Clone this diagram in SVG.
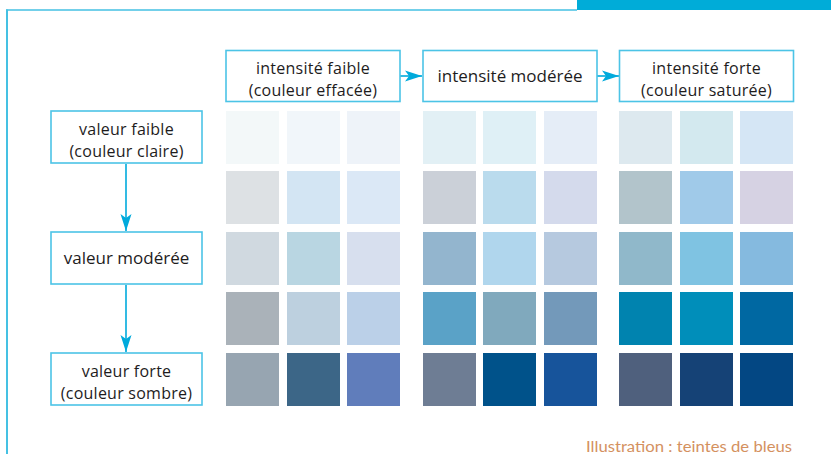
<svg xmlns="http://www.w3.org/2000/svg" width="831" height="454" viewBox="0 0 831 454">
<style>
.box{fill:#fff;stroke:#4cc4e6;stroke-width:1.6}
.lbl{font-family:"Open Sans","Liberation Sans",sans-serif;font-size:16px;fill:#1e1c1d;text-anchor:middle;letter-spacing:0.25px}
.one{font-size:17px;letter-spacing:0}
.con{stroke:#00aadc;stroke-width:1.6;fill:none}
.cap{font-family:"Lato","Liberation Sans",sans-serif;font-size:15.5px;fill:#d4915f}
</style>
<defs>
<marker id="ah" markerUnits="userSpaceOnUse" markerWidth="18" markerHeight="12" refX="17" refY="6" orient="auto">
<path d="M0,0.5 L17,6 L0,11.5 L4,6 Z" fill="#00aadc"/>
</marker>
</defs>
<rect width="831" height="454" fill="#fff"/>
<g id="frame">
<rect x="577" y="0" width="254" height="10" fill="#00acd8"/>
<line x1="6" y1="10" x2="577" y2="10" stroke="#45c1e3" stroke-width="1.6"/>
<line x1="7" y1="9.5" x2="7" y2="454" stroke="#45c1e3" stroke-width="2"/>
</g>
<g id="connectors">
<line class="con" x1="400" y1="76" x2="422" y2="76" marker-end="url(#ah)"/>
<line class="con" x1="597" y1="76" x2="619" y2="76" marker-end="url(#ah)"/>
<line class="con" x1="126" y1="164" x2="126" y2="231" marker-end="url(#ah)"/>
<line class="con" x1="126" y1="285" x2="126" y2="352" marker-end="url(#ah)"/>
</g>
<g id="n-int-faible"><rect class="box" x="226" y="50.5" width="174" height="51"/><text class="lbl"><tspan x="313" y="73.5">intensité faible</tspan><tspan x="313" y="95.5">(couleur effacée)</tspan></text></g>
<g id="n-int-moderee"><rect class="box" x="423" y="50.5" width="174" height="51"/><text class="lbl one" x="510" y="82">intensité modérée</text></g>
<g id="n-int-forte"><rect class="box" x="619.5" y="50.5" width="174" height="51"/><text class="lbl"><tspan x="706.5" y="73.5">intensité forte</tspan><tspan x="706.5" y="95.5">(couleur saturée)</tspan></text></g>
<g id="n-val-faible"><rect class="box" x="51" y="111" width="151" height="52"/><text class="lbl"><tspan x="126.5" y="134.5">valeur faible</tspan><tspan x="126.5" y="156.5">(couleur claire)</tspan></text></g>
<g id="n-val-moderee"><rect class="box" x="51" y="232" width="151" height="52"/><text class="lbl one" x="126.5" y="264">valeur modérée</text></g>
<g id="n-val-forte"><rect class="box" x="51" y="353" width="151" height="52"/><text class="lbl"><tspan x="126.5" y="376.5">valeur forte</tspan><tspan x="126.5" y="398.5">(couleur sombre)</tspan></text></g>
<g id="swatches">
<rect x="226" y="111" width="53" height="53" fill="#f3f8f9"/>
<rect x="287" y="111" width="53" height="53" fill="#f1f6fa"/>
<rect x="347" y="111" width="53" height="53" fill="#eef3f9"/>
<rect x="226" y="171" width="53" height="53" fill="#dde1e4"/>
<rect x="287" y="171" width="53" height="53" fill="#d3e5f3"/>
<rect x="347" y="171" width="53" height="53" fill="#dbe8f6"/>
<rect x="226" y="232" width="53" height="53" fill="#d0d9e0"/>
<rect x="287" y="232" width="53" height="53" fill="#b9d6e2"/>
<rect x="347" y="232" width="53" height="53" fill="#d7dfee"/>
<rect x="226" y="292" width="53" height="53" fill="#aab2b9"/>
<rect x="287" y="292" width="53" height="53" fill="#bdd0df"/>
<rect x="347" y="292" width="53" height="53" fill="#bbd0e8"/>
<rect x="226" y="353" width="53" height="53" fill="#97a5b1"/>
<rect x="287" y="353" width="53" height="53" fill="#3c6687"/>
<rect x="347" y="353" width="53" height="53" fill="#607dbb"/>
<rect x="423" y="111" width="53" height="53" fill="#e2f0f5"/>
<rect x="483" y="111" width="53" height="53" fill="#dff0f6"/>
<rect x="544" y="111" width="53" height="53" fill="#e5edf7"/>
<rect x="423" y="171" width="53" height="53" fill="#cbd0d8"/>
<rect x="483" y="171" width="53" height="53" fill="#badbed"/>
<rect x="544" y="171" width="53" height="53" fill="#d4daec"/>
<rect x="423" y="232" width="53" height="53" fill="#93b5ce"/>
<rect x="483" y="232" width="53" height="53" fill="#b0d6ed"/>
<rect x="544" y="232" width="53" height="53" fill="#b6c9df"/>
<rect x="423" y="292" width="53" height="53" fill="#5aa2c7"/>
<rect x="483" y="292" width="53" height="53" fill="#80a9bd"/>
<rect x="544" y="292" width="53" height="53" fill="#7399ba"/>
<rect x="423" y="353" width="53" height="53" fill="#6e7d94"/>
<rect x="483" y="353" width="53" height="53" fill="#00528a"/>
<rect x="544" y="353" width="53" height="53" fill="#17549b"/>
<rect x="619" y="111" width="53" height="53" fill="#dde9ef"/>
<rect x="680" y="111" width="53" height="53" fill="#d3e9ef"/>
<rect x="740" y="111" width="53" height="53" fill="#d5e6f5"/>
<rect x="619" y="171" width="53" height="53" fill="#b2c4cb"/>
<rect x="680" y="171" width="53" height="53" fill="#a0cae9"/>
<rect x="740" y="171" width="53" height="53" fill="#d6d2e3"/>
<rect x="619" y="232" width="53" height="53" fill="#90b8ca"/>
<rect x="680" y="232" width="53" height="53" fill="#7fc3e2"/>
<rect x="740" y="232" width="53" height="53" fill="#85badf"/>
<rect x="619" y="292" width="53" height="53" fill="#0083af"/>
<rect x="680" y="292" width="53" height="53" fill="#008eba"/>
<rect x="740" y="292" width="53" height="53" fill="#0068a2"/>
<rect x="619" y="353" width="53" height="53" fill="#4f607d"/>
<rect x="680" y="353" width="53" height="53" fill="#154276"/>
<rect x="740" y="353" width="53" height="53" fill="#034783"/>
</g>
<text class="cap" x="586" y="451.5" textLength="206" lengthAdjust="spacingAndGlyphs">Illustration : teintes de bleus</text>
</svg>
